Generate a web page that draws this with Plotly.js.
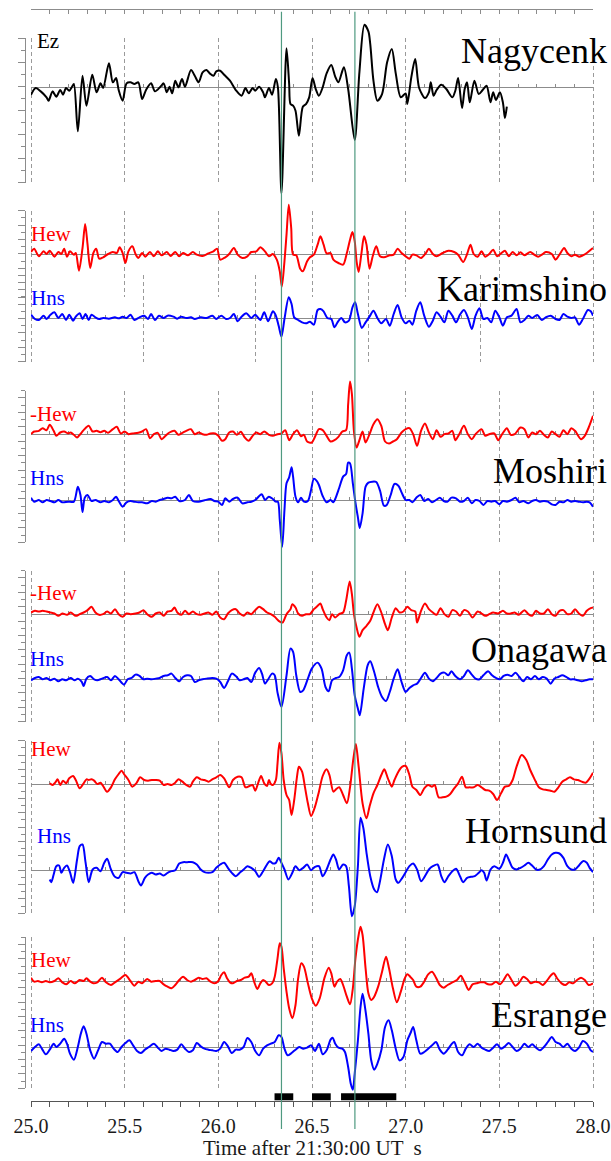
<!DOCTYPE html>
<html>
<head>
<meta charset="utf-8">
<script src="https://cdn.plot.ly/plotly-3.0.1.min.js"></script>
<style>
html, body { margin: 0; padding: 0; background: #ffffff; }
#chart { width: 611px; height: 1161px; }
</style>
</head>
<body>
<div id="chart"></div>
<script>
// ---------------- waveform samples (time in s after 21:30:00 UT, amplitude in relative units) ----------------
const tNagEz = [25.000,25.025,25.052,25.083,25.094,25.115,25.135,25.156,25.171,25.187,25.204,25.219,25.229,25.250,25.275,25.296,25.327,25.350,25.371,25.385,25.416,25.437,25.454,25.468,25.489,25.510,25.531,25.552,25.573,25.593,25.614,25.641,25.662,25.691,25.708,25.725,25.739,25.754,25.770,25.787,25.806,25.822,25.854,25.874,25.895,25.916,25.937,25.954,25.974,25.989,26.010,26.031,26.062,26.093,26.124,26.145,26.162,26.183,26.197,26.218,26.239,26.249,26.270,26.287,26.307,26.318,26.337,26.364,26.378,26.385,26.399,26.412,26.430,26.451,26.468,26.485,26.503,26.520,26.537,26.557,26.578,26.603,26.624,26.641,26.670,26.693,26.728,26.753,26.780,26.801,26.811,26.828,26.849,26.874,26.901,26.926,26.947,26.974,27.000,27.009,27.030,27.051,27.072,27.103,27.124,27.134,27.149,27.165,27.190,27.217,27.249,27.265,27.280,27.301,27.315,27.328,27.342,27.367,27.390,27.411,27.432,27.453,27.467,27.482,27.503,27.519,27.530,27.540];
const vNagEz = [-24,-4,-14,-32,-42,-14,-30,-10,-24,-4,-12,0,8,-134,33,-57,36,-17,10,-4,70,13,26,-10,-42,10,13,8,13,-37,-10,10,-14,0,10,-17,0,-20,18,-2,23,0,50,33,13,43,50,40,33,46,48,36,18,-10,-27,-4,-20,-4,-12,0,-17,-32,-4,-24,23,-2,-320,115,8,-52,-57,-72,-147,-60,-52,-32,26,-7,-27,-2,40,65,30,13,58,-7,-160,43,186,166,128,18,-42,-22,73,113,40,-32,-20,-52,28,83,-4,-34,-17,13,-27,-10,6,-7,-32,-12,26,-64,-7,13,-47,18,-22,-10,3,-47,-17,-40,-17,-47,-94,-60];

const tKarHew = [25.000,25.017,25.042,25.067,25.083,25.100,25.125,25.146,25.162,25.177,25.192,25.208,25.229,25.239,25.256,25.275,25.289,25.302,25.316,25.333,25.348,25.364,25.385,25.412,25.437,25.458,25.473,25.489,25.504,25.520,25.541,25.558,25.573,25.593,25.610,25.635,25.656,25.677,25.697,25.725,25.745,25.770,25.791,25.812,25.837,25.864,25.885,25.916,25.947,25.974,25.993,26.010,26.037,26.058,26.083,26.103,26.128,26.155,26.176,26.203,26.224,26.249,26.270,26.291,26.312,26.328,26.339,26.353,26.364,26.376,26.389,26.399,26.416,26.437,26.451,26.474,26.489,26.510,26.530,26.545,26.562,26.578,26.599,26.614,26.641,26.666,26.686,26.703,26.716,26.728,26.738,26.749,26.763,26.778,26.791,26.807,26.824,26.843,26.863,26.884,26.915,26.936,26.957,26.978,27.000,27.020,27.036,27.057,27.082,27.107,27.124,27.145,27.165,27.197,27.228,27.259,27.280,27.307,27.328,27.346,27.363,27.384,27.405,27.425,27.446,27.467,27.488,27.509,27.530,27.550,27.571,27.592,27.613,27.634,27.665,27.686,27.707,27.727,27.748,27.780,27.800,27.821,27.846,27.863,27.884,27.904,27.925,27.946,27.967,27.988,28.000];
const vKarHew = [6,16,-7,8,0,10,-8,6,0,16,-8,8,-2,3,-50,18,90,28,-42,3,16,-14,-10,0,6,3,20,3,-27,8,23,0,-12,3,-8,6,-7,8,-4,6,-6,6,-7,3,-4,6,-2,-6,2,8,16,-17,-10,0,18,-2,-12,-7,6,8,20,8,-7,0,-17,-52,-98,-22,58,148,78,-2,-4,-44,-52,-22,-10,-2,28,53,28,2,3,-17,-27,-32,3,43,66,38,-22,-54,-2,53,28,-44,-7,23,-7,-10,-4,-2,16,3,-7,-14,-2,-4,-12,2,16,0,-7,3,10,6,-2,-24,0,28,0,-8,8,-8,0,13,-7,2,10,-7,6,-4,5,-4,6,-2,-8,-2,6,0,-17,-2,18,3,-7,-2,-8,-4,3,13,18];

const tKarHns = [25.000,25.021,25.042,25.067,25.083,25.104,25.125,25.146,25.167,25.187,25.204,25.225,25.239,25.260,25.275,25.291,25.308,25.323,25.344,25.364,25.385,25.416,25.448,25.468,25.489,25.510,25.531,25.552,25.579,25.604,25.625,25.641,25.662,25.683,25.708,25.729,25.760,25.781,25.802,25.829,25.854,25.874,25.906,25.937,25.968,25.989,26.016,26.041,26.062,26.083,26.103,26.124,26.149,26.176,26.197,26.224,26.245,26.266,26.291,26.305,26.322,26.337,26.353,26.376,26.391,26.405,26.426,26.447,26.468,26.489,26.510,26.530,26.545,26.562,26.582,26.603,26.620,26.636,26.657,26.676,26.697,26.716,26.730,26.745,26.766,26.786,26.807,26.828,26.849,26.870,26.895,26.915,26.936,26.957,26.978,27.000,27.020,27.036,27.057,27.078,27.099,27.124,27.145,27.165,27.186,27.207,27.228,27.249,27.269,27.290,27.311,27.332,27.353,27.373,27.394,27.415,27.436,27.457,27.478,27.500,27.519,27.540,27.565,27.592,27.613,27.634,27.655,27.675,27.702,27.727,27.748,27.774,27.800,27.821,27.842,27.863,27.884,27.904,27.925,27.946,27.973,27.988,28.000];
const vKarHns = [10,-3,-6,7,-3,10,17,0,12,-6,10,-8,4,14,-3,12,-6,10,2,-3,0,-2,2,-1,4,0,10,-6,2,7,-3,12,-6,7,0,7,4,-2,4,0,2,-3,2,0,7,-3,7,-3,0,12,-10,4,14,0,10,-6,17,-10,20,10,-23,-56,-3,62,42,2,-6,-13,-16,-11,-20,24,27,20,0,-3,-28,-13,0,-13,-8,32,47,12,-30,-13,4,22,0,-16,-3,-23,12,39,2,-16,-8,-20,22,47,7,-26,-8,17,4,-13,22,7,-13,10,24,2,-33,7,29,-3,0,-13,22,2,-23,2,7,27,-13,-6,7,0,9,-6,2,7,-3,-6,12,4,0,2,-20,-3,24,20,7];

const tMosHew = [25.000,25.017,25.042,25.062,25.083,25.100,25.121,25.135,25.156,25.177,25.198,25.212,25.229,25.246,25.260,25.281,25.308,25.329,25.350,25.371,25.391,25.412,25.437,25.458,25.479,25.500,25.520,25.541,25.573,25.593,25.614,25.635,25.656,25.677,25.697,25.718,25.739,25.766,25.787,25.808,25.829,25.854,25.874,25.895,25.916,25.937,25.958,25.983,26.000,26.020,26.037,26.058,26.078,26.099,26.120,26.141,26.162,26.183,26.203,26.224,26.245,26.270,26.291,26.316,26.337,26.357,26.378,26.399,26.420,26.441,26.457,26.474,26.499,26.516,26.537,26.557,26.578,26.599,26.620,26.641,26.662,26.682,26.693,26.703,26.713,26.724,26.738,26.753,26.770,26.786,26.807,26.828,26.849,26.870,26.890,26.911,26.932,26.953,26.978,27.000,27.020,27.040,27.061,27.082,27.103,27.124,27.145,27.165,27.186,27.207,27.228,27.249,27.265,27.286,27.311,27.332,27.353,27.373,27.405,27.425,27.446,27.473,27.494,27.515,27.540,27.561,27.582,27.613,27.634,27.655,27.675,27.696,27.717,27.738,27.759,27.780,27.800,27.821,27.842,27.863,27.884,27.904,27.936,27.956,27.977,28.000];
const vMosHew = [-2,6,8,16,10,26,8,-7,3,6,0,3,-4,-12,-4,10,23,6,8,4,8,2,13,20,0,6,-2,0,2,6,13,-14,-2,2,-17,-7,3,8,-4,2,8,13,-2,3,-2,-4,0,0,-7,-22,-17,3,6,-4,5,-12,-22,-7,3,-2,6,-4,-7,-2,0,10,-20,-2,10,-8,-4,-24,-27,-10,13,10,-7,-24,-20,-10,6,10,88,156,118,6,-42,-20,6,-27,-2,28,43,23,-24,-30,-24,-17,3,13,16,-2,-37,8,30,3,-17,10,-10,-2,0,8,-20,-2,23,-2,-17,-2,13,-7,-2,0,-20,-2,16,-4,-2,18,13,-12,3,-2,8,-4,-12,6,-2,-10,10,-2,16,8,-17,-7,18,53];

const tMosHns = [25.000,25.017,25.042,25.062,25.083,25.104,25.125,25.146,25.167,25.198,25.229,25.250,25.264,25.275,25.287,25.302,25.323,25.344,25.371,25.391,25.416,25.437,25.454,25.468,25.489,25.510,25.531,25.552,25.573,25.593,25.620,25.645,25.666,25.687,25.708,25.729,25.750,25.770,25.791,25.822,25.843,25.864,25.895,25.926,25.958,25.979,26.000,26.020,26.037,26.058,26.078,26.103,26.128,26.155,26.176,26.197,26.224,26.233,26.249,26.270,26.291,26.307,26.318,26.328,26.341,26.353,26.364,26.378,26.391,26.399,26.412,26.426,26.441,26.457,26.478,26.495,26.510,26.524,26.537,26.557,26.578,26.599,26.614,26.624,26.645,26.666,26.682,26.693,26.703,26.718,26.732,26.745,26.755,26.770,26.786,26.801,26.822,26.843,26.863,26.884,26.899,26.920,26.940,26.961,26.978,27.000,27.020,27.036,27.057,27.078,27.099,27.120,27.141,27.162,27.182,27.203,27.224,27.244,27.269,27.290,27.311,27.332,27.353,27.373,27.394,27.415,27.436,27.457,27.478,27.500,27.519,27.540,27.565,27.586,27.607,27.628,27.655,27.675,27.696,27.717,27.738,27.759,27.780,27.800,27.821,27.842,27.863,27.884,27.904,27.925,27.946,27.967,27.982,28.000];
const vMosHns = [7,-5,0,-7,0,-3,-7,0,-7,-5,-5,40,15,-36,7,15,-3,0,-7,-3,-7,0,10,-3,-20,-7,-3,-5,-7,-7,-10,-3,-5,0,3,7,5,10,-3,0,15,-3,-5,-1,3,-3,-5,-15,5,-5,3,7,-10,-7,-5,0,15,17,0,10,3,-5,-5,-60,-140,-30,50,68,98,70,10,-7,7,-5,-3,30,64,58,45,12,-7,0,-7,3,36,70,78,112,110,50,-8,-52,-84,-40,40,52,55,54,28,-17,-15,15,48,43,23,0,0,-7,7,15,-3,3,-7,0,7,-3,-5,7,5,-5,-3,7,-10,0,-3,-15,-3,-5,-3,-13,-3,-5,0,7,-7,-3,-10,-3,0,-5,-3,-5,-13,-15,-5,-7,0,-5,-3,-5,-7,-5,-7,-20];

const tOnaHew = [25.000,25.021,25.042,25.062,25.083,25.104,25.125,25.146,25.167,25.192,25.212,25.239,25.260,25.281,25.302,25.323,25.344,25.364,25.385,25.406,25.427,25.448,25.468,25.489,25.510,25.531,25.558,25.579,25.600,25.620,25.645,25.666,25.687,25.708,25.729,25.750,25.766,25.781,25.802,25.822,25.843,25.864,25.885,25.906,25.926,25.947,25.968,25.989,26.010,26.031,26.051,26.072,26.093,26.114,26.135,26.155,26.176,26.197,26.218,26.239,26.260,26.280,26.301,26.322,26.343,26.364,26.385,26.395,26.412,26.426,26.447,26.468,26.489,26.510,26.530,26.545,26.557,26.578,26.593,26.607,26.624,26.645,26.666,26.682,26.701,26.713,26.724,26.738,26.753,26.770,26.791,26.811,26.828,26.849,26.870,26.890,26.905,26.926,26.947,26.967,26.988,27.009,27.030,27.051,27.061,27.082,27.103,27.124,27.145,27.165,27.186,27.207,27.228,27.249,27.269,27.290,27.311,27.332,27.357,27.384,27.405,27.425,27.446,27.467,27.494,27.519,27.540,27.561,27.582,27.603,27.634,27.655,27.675,27.696,27.717,27.738,27.759,27.780,27.800,27.821,27.842,27.863,27.884,27.904,27.925,27.946,27.967,27.988,28.000];
const vOnaHew = [3,8,6,8,6,3,0,-7,0,-4,3,-7,-2,3,10,20,3,-4,-2,6,0,13,-2,-10,0,-2,0,3,10,-2,-10,0,3,-7,6,8,18,3,-4,8,-2,6,-2,-4,0,3,-4,6,-12,-17,0,10,13,0,-7,3,-2,10,20,13,3,-2,-10,-22,-27,-2,13,28,18,0,-7,-2,-2,13,23,30,13,-12,-20,-2,-12,-2,3,38,96,58,-2,-42,-70,-50,-37,-22,3,28,3,-32,-50,-12,16,3,6,20,10,6,-27,8,30,13,3,-4,16,-2,-10,10,6,-7,10,6,-12,6,0,-7,-2,3,0,8,0,0,3,-4,10,-2,-7,8,0,0,13,-2,-7,8,10,-2,0,13,0,-7,8,16,18];

const tOnaHns = [25.000,25.021,25.042,25.062,25.083,25.104,25.125,25.146,25.167,25.187,25.212,25.233,25.250,25.271,25.281,25.296,25.316,25.337,25.354,25.379,25.406,25.427,25.448,25.468,25.496,25.516,25.537,25.558,25.579,25.600,25.620,25.645,25.666,25.687,25.708,25.729,25.750,25.770,25.791,25.812,25.833,25.854,25.874,25.895,25.916,25.937,25.968,25.989,26.010,26.031,26.051,26.072,26.093,26.114,26.135,26.155,26.176,26.197,26.218,26.233,26.249,26.266,26.287,26.301,26.316,26.337,26.364,26.385,26.399,26.416,26.437,26.453,26.478,26.499,26.530,26.551,26.572,26.589,26.607,26.628,26.645,26.666,26.686,26.699,26.713,26.728,26.745,26.755,26.776,26.797,26.811,26.832,26.853,26.874,26.895,26.915,26.936,26.957,26.978,27.000,27.020,27.040,27.061,27.082,27.103,27.124,27.145,27.165,27.186,27.207,27.228,27.244,27.265,27.290,27.311,27.332,27.353,27.373,27.394,27.415,27.440,27.461,27.482,27.503,27.523,27.544,27.565,27.586,27.607,27.628,27.648,27.669,27.690,27.711,27.732,27.753,27.774,27.794,27.815,27.836,27.857,27.877,27.898,27.919,27.940,27.961,27.982,28.000];
const vOnaHns = [-3,4,7,0,4,-3,2,-6,0,-3,4,-3,2,-8,-20,2,10,0,-3,2,7,-3,10,0,-16,0,4,14,10,0,2,0,2,4,10,12,17,4,-6,7,12,10,-8,-3,0,2,4,2,-8,-26,-6,17,10,-3,0,4,-8,20,34,17,-13,0,17,12,-40,-83,12,92,82,12,-38,-33,2,32,50,32,-23,-36,-3,4,7,27,72,80,32,-48,-88,-108,-28,42,54,22,-23,-53,-65,-38,2,30,-8,-38,-26,-18,-13,4,20,2,-6,4,17,20,12,24,10,0,10,27,14,2,0,12,24,12,4,0,10,14,10,20,7,-6,7,0,10,0,7,2,-13,2,7,12,7,0,0,-3,-6,-3,0,0];

const tHorHew = [25.100,25.115,25.129,25.142,25.156,25.171,25.187,25.204,25.225,25.239,25.260,25.281,25.296,25.308,25.323,25.337,25.354,25.371,25.385,25.406,25.427,25.448,25.468,25.483,25.500,25.520,25.541,25.562,25.583,25.604,25.625,25.645,25.666,25.687,25.708,25.729,25.750,25.770,25.787,25.808,25.829,25.849,25.864,25.885,25.906,25.926,25.947,25.968,25.989,26.010,26.031,26.058,26.078,26.103,26.124,26.145,26.166,26.183,26.197,26.212,26.228,26.245,26.260,26.270,26.280,26.291,26.307,26.316,26.326,26.337,26.349,26.364,26.378,26.391,26.405,26.420,26.430,26.447,26.462,26.478,26.495,26.516,26.537,26.557,26.578,26.593,26.614,26.628,26.645,26.666,26.686,26.703,26.720,26.734,26.749,26.770,26.791,26.807,26.828,26.849,26.870,26.886,26.905,26.926,26.940,26.961,26.982,27.000,27.020,27.036,27.057,27.078,27.099,27.120,27.141,27.155,27.176,27.197,27.217,27.238,27.259,27.280,27.301,27.321,27.342,27.363,27.384,27.405,27.425,27.446,27.467,27.488,27.509,27.530,27.550,27.571,27.592,27.619,27.644,27.665,27.686,27.711,27.732,27.753,27.774,27.794,27.815,27.836,27.857,27.877,27.898,27.919,27.940,27.961,27.982,28.000];
const vHorHew = [2,-3,4,14,-3,10,2,17,24,12,-13,2,14,12,14,10,0,4,-6,-23,-10,14,30,40,27,12,-8,2,20,12,10,12,12,10,-3,0,-3,4,14,7,-3,-8,7,20,14,12,7,14,20,27,17,-10,12,22,20,-10,-6,-3,-20,2,24,2,-6,12,0,-3,12,62,124,92,12,-33,-48,-93,-48,22,52,37,-8,-58,-96,-68,-23,24,44,27,-23,-16,-10,-33,-58,-10,72,120,52,-58,-103,-68,-28,-3,27,44,17,-8,12,37,52,54,27,-8,-18,-33,-13,-3,-8,-3,-40,-40,-38,-30,-13,2,22,-10,-10,-10,-3,-10,-18,-20,-30,-48,-28,-8,-6,12,52,87,72,42,17,-10,-16,-18,-20,-23,-10,7,14,20,14,12,7,4,17,34];

const tHorHns = [25.100,25.108,25.121,25.135,25.150,25.162,25.177,25.192,25.208,25.225,25.246,25.260,25.275,25.291,25.308,25.329,25.350,25.371,25.391,25.406,25.427,25.448,25.468,25.489,25.510,25.531,25.552,25.573,25.587,25.608,25.625,25.645,25.666,25.687,25.708,25.729,25.750,25.770,25.791,25.812,25.833,25.864,25.885,25.906,25.926,25.947,25.968,25.989,26.010,26.031,26.051,26.072,26.093,26.114,26.135,26.155,26.176,26.197,26.218,26.239,26.260,26.274,26.291,26.307,26.322,26.337,26.353,26.374,26.395,26.412,26.432,26.453,26.474,26.495,26.516,26.537,26.557,26.578,26.599,26.614,26.628,26.645,26.666,26.682,26.697,26.713,26.728,26.745,26.759,26.774,26.791,26.811,26.832,26.847,26.863,26.884,26.905,26.926,26.947,26.961,26.982,27.003,27.020,27.040,27.061,27.082,27.103,27.124,27.145,27.170,27.190,27.207,27.228,27.249,27.269,27.290,27.307,27.328,27.348,27.369,27.390,27.405,27.419,27.432,27.453,27.473,27.500,27.519,27.536,27.550,27.571,27.592,27.613,27.634,27.655,27.675,27.696,27.717,27.738,27.759,27.780,27.800,27.821,27.842,27.863,27.884,27.904,27.925,27.946,27.967,27.982,28.000];
const vHorHns = [-30,-38,-15,10,12,-10,5,12,-8,-40,30,70,75,22,-38,0,5,-5,20,32,0,-22,-25,-8,-10,-12,-8,-35,-48,-25,-15,-10,-15,-12,-18,-10,-5,-2,18,22,22,22,15,0,-8,-10,-8,5,15,20,5,-10,-20,-10,0,10,5,-5,-22,-5,15,25,18,20,35,20,0,-30,-10,10,-2,5,15,-2,8,10,-20,0,30,45,30,0,15,10,-50,-140,-110,10,155,125,50,-20,-60,-68,-35,30,75,40,-30,-40,-25,-5,10,18,0,-35,-20,0,10,15,-20,-38,-20,-5,2,-20,-38,-25,-22,-20,-10,-2,-10,-33,0,10,2,20,45,30,5,0,5,12,20,12,0,0,10,30,45,50,48,35,10,0,0,12,25,20,5,-8];

const tEsrHew = [25.000,25.017,25.037,25.058,25.079,25.100,25.125,25.146,25.167,25.187,25.212,25.233,25.260,25.281,25.296,25.316,25.333,25.354,25.379,25.400,25.427,25.448,25.479,25.504,25.531,25.552,25.573,25.593,25.620,25.641,25.666,25.687,25.708,25.729,25.750,25.770,25.791,25.812,25.833,25.854,25.874,25.895,25.916,25.937,25.958,25.979,26.000,26.016,26.031,26.045,26.062,26.078,26.099,26.120,26.141,26.162,26.176,26.191,26.208,26.224,26.239,26.253,26.270,26.287,26.301,26.316,26.328,26.337,26.349,26.364,26.378,26.395,26.412,26.426,26.443,26.457,26.478,26.499,26.520,26.541,26.566,26.589,26.603,26.620,26.634,26.651,26.666,26.686,26.703,26.718,26.732,26.749,26.759,26.770,26.786,26.801,26.816,26.832,26.853,26.874,26.895,26.911,26.932,26.953,26.974,26.995,27.009,27.024,27.040,27.057,27.078,27.099,27.120,27.141,27.162,27.182,27.203,27.224,27.249,27.274,27.294,27.315,27.336,27.357,27.378,27.398,27.419,27.440,27.461,27.482,27.503,27.523,27.544,27.565,27.586,27.607,27.628,27.648,27.669,27.690,27.711,27.732,27.753,27.774,27.790,27.811,27.832,27.852,27.873,27.894,27.915,27.936,27.956,27.977,28.000];
const vEsrHew = [10,-2,0,-4,0,-4,0,8,-4,-10,0,-7,3,0,8,-2,-7,-4,10,-4,-12,-4,8,18,0,-14,-2,-7,6,-2,0,0,-10,-17,-22,-12,3,13,3,-2,3,10,6,8,-2,-7,0,18,26,10,-4,-7,0,3,10,13,23,-2,-24,-7,3,-2,-12,-7,13,68,113,103,38,-32,-82,-112,-72,8,53,43,-7,-52,-74,-52,8,40,23,-17,-2,6,-12,-47,-70,-22,68,138,163,138,38,-37,-57,-47,-17,28,73,38,-22,-64,-32,8,20,13,3,-17,-17,-2,20,28,10,-12,-20,-12,-4,3,16,-4,-27,-10,-7,-4,-4,-10,-10,-2,-10,3,20,3,-14,-4,13,6,-7,-2,-4,-12,0,16,23,6,-7,-12,-4,-7,3,10,3,-12,-7];

const tEsrHns = [25.000,25.021,25.042,25.058,25.079,25.100,25.121,25.135,25.156,25.177,25.192,25.208,25.229,25.250,25.266,25.281,25.296,25.316,25.337,25.358,25.379,25.400,25.421,25.441,25.462,25.483,25.504,25.525,25.545,25.566,25.587,25.608,25.629,25.656,25.677,25.697,25.718,25.739,25.760,25.781,25.802,25.822,25.843,25.864,25.885,25.906,25.926,25.947,25.968,25.989,26.010,26.031,26.051,26.072,26.093,26.114,26.135,26.155,26.176,26.197,26.218,26.239,26.260,26.280,26.301,26.322,26.337,26.353,26.370,26.391,26.412,26.432,26.453,26.474,26.495,26.516,26.537,26.557,26.578,26.599,26.610,26.624,26.641,26.662,26.676,26.693,26.707,26.718,26.728,26.745,26.759,26.770,26.784,26.801,26.816,26.832,26.849,26.870,26.890,26.909,26.926,26.947,26.967,26.988,27.009,27.026,27.040,27.057,27.078,27.099,27.120,27.141,27.162,27.182,27.203,27.224,27.244,27.259,27.280,27.301,27.321,27.342,27.363,27.384,27.405,27.425,27.446,27.467,27.488,27.509,27.530,27.550,27.571,27.592,27.613,27.634,27.655,27.675,27.696,27.717,27.738,27.759,27.780,27.800,27.821,27.842,27.863,27.884,27.904,27.925,27.946,27.967,27.988,28.000];
const vEsrHns = [-12,0,8,-5,-22,-8,10,0,10,25,10,-20,-38,0,40,62,40,-10,-35,-10,15,10,10,-5,-15,0,12,20,5,-12,-18,-8,0,10,-2,-12,-5,-8,-12,-8,8,-5,-15,-10,12,2,-5,-8,-10,-12,-5,15,2,-18,-8,-8,0,27,15,-12,-25,-5,5,10,15,35,30,-5,-25,-18,-8,0,-5,-2,5,-12,10,-22,-10,22,28,10,-2,-5,-15,-60,-110,-128,-80,20,120,160,115,40,-40,-68,-50,-10,60,80,50,-5,-40,-30,20,42,60,20,-20,-15,-5,5,15,-8,-20,-8,8,15,-15,-25,-5,8,0,10,-2,-8,-12,-2,8,-5,2,12,0,-12,-5,10,0,8,-2,-10,0,15,30,15,10,0,10,-5,-12,-2,18,10,-10,-15];

// event markers and analysis windows (s)
const eventTimes = [26.337, 26.729];
const windowStarts = [26.30, 26.50, 26.655];
const windowEnds = [26.40, 26.60, 26.95];

// text
const stationNames = ['Nagycenk', 'Karimshino', 'Moshiri', 'Onagawa', 'Hornsund', 'Esrange'];
const channelNames = ['Ez', 'Hew', 'Hns', '-Hew', 'Hns', '-Hew', 'Hns', 'Hew', 'Hns', 'Hew', 'Hns'];
const axisTitle = 'Time after 21:30:00 UT &nbsp;s';

// ---------------- geometry ----------------
const FONT = '"Liberation Serif", "Times New Roman", serif';
const GRAY = '#8c8c8c';
const GRID = '#9a9a9a';
const RED = '#ff0000', BLUE = '#0000ff', BLACK = '#000000';
const W = 611, H = 1161;
const M = {l: 11, r: 8, t: 0, b: 60};
const PW = W - M.l - M.r, PH = H - M.t - M.b;
const fx = px => (px - M.l) / PW;
const fy = py => 1 - (py - M.t) / PH;
const X0 = 31, X1 = 593, T0 = 25, T1 = 28;
const pxPerSec = (X1 - X0) / (T1 - T0);
const U = 3;          // amplitude units per pixel
const AXIS_X = 25;    // left tick axes

// panel frames: tick span, number of tick intervals, dashed grid spacing
const frames = [
  {top: 38.3,  bottom: 182.7,  n: 12, grid: 0.5},
  {top: 210.7, bottom: 297.1,  n: 12, grid: 0.5},
  {top: 275.3, bottom: 361.7,  n: 12, grid: 0.6},
  {top: 390.7, bottom: 542.3,  n: 21, grid: 0.5, vals: [25.5, 26, 26.5, 27, 27.5, 28]},
  {top: 570.7, bottom: 721.7,  n: 21, grid: 0.5},
  {top: 740.7, bottom: 913.3,  n: 24, grid: 0.5},
  {top: 937.3, bottom: 1088.3, n: 21, grid: 0.5}
];

const series = [
  {t: tNagEz,  v: vNagEz,  color: BLACK, base: 86.7,  lx: 35, ly: 41},
  {t: tKarHew, v: vKarHew, color: RED,   base: 254,   lx: 29, ly: 234},
  {t: tKarHns, v: vKarHns, color: BLUE,  base: 318,   lx: 29, ly: 298},
  {t: tMosHew, v: vMosHew, color: RED,   base: 433.5, lx: 28, ly: 413.5},
  {t: tMosHns, v: vMosHns, color: BLUE,  base: 500,   lx: 28, ly: 478.5},
  {t: tOnaHew, v: vOnaHew, color: RED,   base: 613.5, lx: 28, ly: 593},
  {t: tOnaHns, v: vOnaHns, color: BLUE,  base: 679.3, lx: 28, ly: 658.5},
  {t: tHorHew, v: vHorHew, color: RED,   base: 784,   lx: 29, ly: 748.5},
  {t: tHorHns, v: vHorHns, color: BLUE,  base: 869.5, lx: 35, ly: 835.5},
  {t: tEsrHew, v: vEsrHew, color: RED,   base: 981,   lx: 29, ly: 960.5},
  {t: tEsrHns, v: vEsrHns, color: BLUE,  base: 1047,  lx: 28, ly: 1025}
];
const stationY = [51, 289, 471, 650, 831, 1015];

const traces = [];
const layout = {
  width: W, height: H,
  margin: M,
  paper_bgcolor: '#ffffff',
  plot_bgcolor: 'rgba(0,0,0,0)',
  showlegend: false,
  font: {family: FONT, color: '#000'},
  shapes: [],
  annotations: []
};

// bottom time axis with analysis windows
const BAR_Y = 4.2;
const wx = [], wy = [];
windowStarts.forEach((s, i) => { wx.push(s, windowEnds[i], null); wy.push(BAR_Y, BAR_Y, null); });
traces.push({x: wx, y: wy, xaxis: 'x', yaxis: 'y', mode: 'lines',
  line: {color: BLACK, width: 7}, hoverinfo: 'skip'});
layout.xaxis = {
  domain: [fx(X0), fx(X1)], range: [T0, T1], anchor: 'y',
  showline: true, linecolor: '#555', linewidth: 1,
  ticks: 'outside', ticklen: 5, tickcolor: '#555', tick0: 25, dtick: 0.5,
  minor: {dtick: 0.1, ticks: 'outside', ticklen: 5, tickcolor: '#555', showgrid: false},
  tickformat: '.1f', ticklabelstandoff: 2,
  tickfont: {family: FONT, size: 20, color: '#1a1a1a'},
  showgrid: false, zeroline: false
};
layout.yaxis = {domain: [0, 1], range: [0, PH], visible: false, anchor: 'x'};

// axis title below the time labels, resting on the bottom edge
layout.annotations.push({
  text: axisTitle, xref: 'paper', yref: 'paper', x: fx((X0 + X1) / 2), y: fy(H - 0.5),
  xanchor: 'center', yanchor: 'bottom', showarrow: false, borderpad: 0,
  font: {family: FONT, size: 21, color: '#1a1a1a'}
});

// panel frames: left tick axes and dashed time grid
frames.forEach((f, i) => {
  const k = i + 2;
  traces.push({x: [], y: [], xaxis: 'x' + k, yaxis: 'y' + k, mode: 'lines', hoverinfo: 'skip'});
  const xa = {
    domain: [fx(X0 - 5), fx(X1 + 5)],
    range: [T0 - 5 / pxPerSec, T1 + 5 / pxPerSec],
    anchor: 'y' + k, showline: false, ticks: '', showticklabels: false, zeroline: false,
    showgrid: true, gridcolor: GRID, gridwidth: 1, griddash: '4px,3px'
  };
  if (f.vals) { xa.tickmode = 'array'; xa.tickvals = f.vals; }
  else { xa.tick0 = 25; xa.dtick = f.grid; }
  layout['xaxis' + k] = xa;
  layout['yaxis' + k] = {
    domain: [fy(f.bottom), fy(f.top)], range: [0, f.n],
    anchor: 'free', position: fx(AXIS_X),
    showline: true, linecolor: GRAY, linewidth: 1,
    ticks: 'outside', ticklen: 7, tickcolor: GRAY, tick0: 0, dtick: 2,
    minor: {dtick: 1, ticks: 'outside', ticklen: 4, tickcolor: GRAY, showgrid: false},
    showticklabels: false, showgrid: false, zeroline: false
  };
});

// waveforms, each on its own baseline axis
series.forEach((s, i) => {
  const k = i + 2 + frames.length;
  traces.push({x: s.t, y: s.v, xaxis: 'x' + k, yaxis: 'y' + k, mode: 'lines',
    line: {color: s.color, width: 2, shape: 'spline', smoothing: 0.8}, hoverinfo: 'skip'});
  layout['xaxis' + k] = {
    domain: [fx(X0), fx(X1)], range: [T0, T1], anchor: 'free', position: fy(s.base),
    showline: true, linecolor: GRAY, linewidth: 1, layer: 'below traces',
    ticks: 'inside', ticklen: 3, tickcolor: GRAY, tick0: 25, dtick: 0.1,
    showticklabels: false, showgrid: false, zeroline: false
  };
  layout['yaxis' + k] = {
    domain: [0, 1], range: [-(PH - s.base) * U, (s.base - M.t) * U],
    visible: false, anchor: 'x' + k
  };
  layout.annotations.push({
    text: channelNames[i], xref: 'paper', yref: 'paper', x: fx(s.lx), y: fy(s.ly),
    xanchor: 'left', yanchor: 'middle', showarrow: false,
    font: {family: FONT, size: 21, color: s.color}
  });
});

// top time axis of the first panel
const kTop = 2 + frames.length + series.length;
traces.push({x: [], y: [], xaxis: 'x' + kTop, yaxis: 'y', mode: 'lines', hoverinfo: 'skip'});
layout['xaxis' + kTop] = {
  domain: [fx(X0), fx(X1)], range: [T0, T1], anchor: 'free', position: fy(9.3), side: 'top',
  showline: true, linecolor: GRAY, linewidth: 1,
  ticks: 'inside', ticklen: 4, tickcolor: GRAY, tick0: 25, dtick: 0.1,
  showticklabels: false, showgrid: false, zeroline: false
};

// station names
stationNames.forEach((name, i) => {
  layout.annotations.push({
    text: name, xref: 'paper', yref: 'paper', x: fx(609), y: fy(stationY[i]),
    xanchor: 'right', yanchor: 'middle', showarrow: false,
    font: {family: FONT, size: 36, color: '#000'}
  });
});

// event time markers
eventTimes.forEach(t => {
  layout.shapes.push({type: 'line', xref: 'x', yref: 'paper', x0: t, x1: t,
    y0: fy(1129), y1: fy(11.7), line: {color: '#4f9a80', width: 1.2}});
});

Plotly.newPlot('chart', traces, layout, {staticPlot: true, displayModeBar: false});
</script>
</body>
</html>
